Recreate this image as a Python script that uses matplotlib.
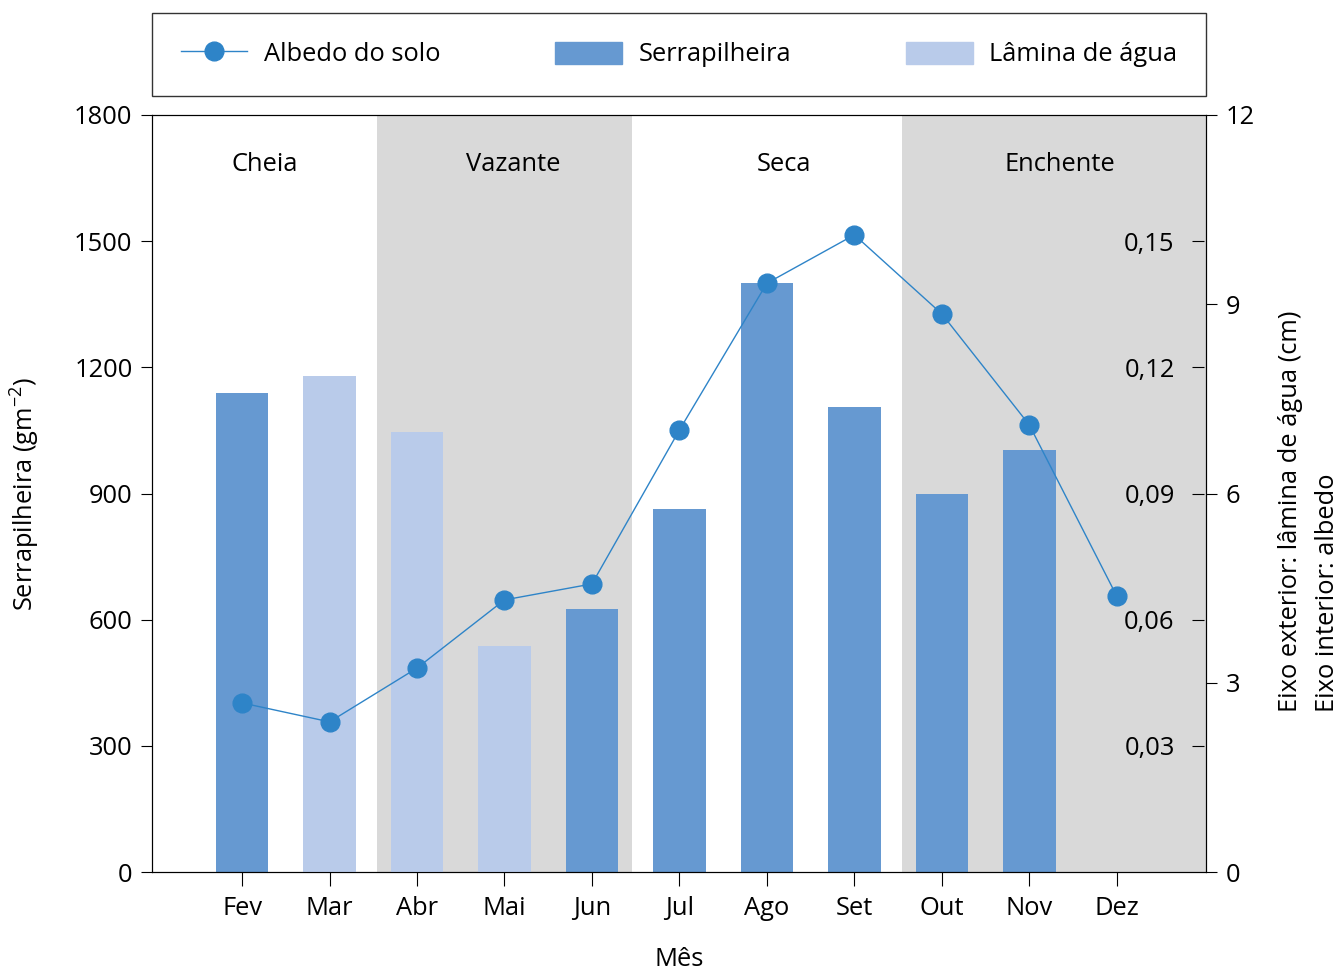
import matplotlib
matplotlib.use("Agg")
import matplotlib.pyplot as plt
import numpy as np
from matplotlib.lines import Line2D
from matplotlib.patches import Patch

plt.rcParams['font.family'] = ['Open Sans', 'DejaVu Sans']
plt.rcParams['mathtext.default'] = 'regular'

months = ["Fev", "Mar", "Abr", "Mai", "Jun", "Jul", "Ago", "Set", "Out", "Nov", "Dez"]
# Serrapilheira (g m-2); None where the bar shows water depth instead
serrapilheira = [1140, None, None, None, 625, 863, 1400, 1105, 899, 1003, None]
# Lâmina de água (cm)
lamina = [None, 7.87, 6.97, 3.58, None, None, None, None, None, None, None]
# Albedo do solo
albedo = [0.0402, 0.0357, 0.0485, 0.0647, 0.0685, 0.1051, 0.1400, 0.1515, 0.1327, 0.1063, 0.0656]

seasons = ["Cheia", "Vazante", "Seca", "Enchente"]
season_bounds = [(-0.03, 2.54), (2.54, 5.46), (5.46, 8.55), (8.55, 12.02)]
season_shaded = [False, True, False, True]
season_label_x = [1.26, 4.1, 7.2, 10.35]

dark = "#6699d1"
light = "#b9cbea"
linec = "#2e84c8"
gray = "#d9d9d9"
fs = 18.4

fig = plt.figure(figsize=(13.41, 9.73), dpi=100)
ax = fig.add_axes([152/1341, 101/973, 1054/1341, 757/973])
x = np.arange(1, len(months) + 1)

for (a, b), sh in zip(season_bounds, season_shaded):
    if sh:
        ax.axvspan(a, b, color=gray, lw=0, zorder=0)
for lx_, name in zip(season_label_x, seasons):
    ax.text(lx_, 1683, name, ha='center', va='center', fontsize=fs, zorder=5)

# outer right axis (lâmina), 0-12 cm
ax2 = ax.twinx()
ax2.set_ylim(0, 12)
ax2.set_yticks([0, 3, 6, 9, 12])
ax2.tick_params(axis='y', direction='out', length=8, labelsize=fs, pad=6)

sx = [xi for xi, v in zip(x, serrapilheira) if v is not None]
sv = [v for v in serrapilheira if v is not None]
ax.bar(sx, sv, width=0.6, color=dark, zorder=2)
lx = [xi for xi, v in zip(x, lamina) if v is not None]
lv = [v for v in lamina if v is not None]
ax2.bar(lx, lv, width=0.6, color=light, zorder=2)

# inner albedo axis
ax3 = ax.twinx()
ax3.set_ylim(0, 0.18)
ax3.yaxis.tick_left()
ax3.spines['left'].set_position(('axes', 0.998))
for s in ['left', 'right', 'top', 'bottom']:
    ax3.spines[s].set_visible(False)
ax3.set_yticks([0.03, 0.06, 0.09, 0.12, 0.15])
ax3.set_yticklabels(["0,03", "0,06", "0,09", "0,12", "0,15"])
ax3.tick_params(axis='y', direction='out', length=9, labelsize=fs, pad=12)
ax3.plot(x, albedo, color=linec, lw=1.0, marker='o', markersize=13.5, zorder=4)

ax.set_xlim(-0.03, 12.02)
ax.set_ylim(0, 1800)
ax.set_yticks(np.arange(0, 1801, 300))
ax.set_xticks(x)
ax.set_xticklabels(months)
ax.tick_params(axis='y', direction='out', length=8, labelsize=fs, pad=6)
ax.tick_params(axis='x', direction='out', length=10, labelsize=fs, pad=7)
ax.set_ylabel("Serrapilheira (gm$^{-2}$)", fontsize=fs, labelpad=23)
ax.set_xlabel("Mês", fontsize=fs, labelpad=19)

fig.text(1309/1341, (973-712)/973, "Eixo exterior: lâmina de água (cm)\nEixo interior: albedo",
         rotation=90, ha='center', va='bottom', multialignment='left', fontsize=fs,
         linespacing=1.65)

handles = [Line2D([], [], color=linec, lw=1.0, marker='o', markersize=13.5),
           Patch(color=dark), Patch(color=light)]
leg = ax.legend(handles, ["Albedo do solo", "Serrapilheira", "Lâmina de água"],
                loc='lower left', bbox_to_anchor=(0, 1.0251, 1, 0.1096), mode='expand',
                ncol=3, fontsize=fs, frameon=True, fancybox=False, edgecolor='black',
                handlelength=2.6, handleheight=0.95, handletextpad=0.65,
                borderaxespad=0, borderpad=1.12)
leg.get_frame().set_linewidth(1.0)

fig.savefig("out.png", dpi=100)
